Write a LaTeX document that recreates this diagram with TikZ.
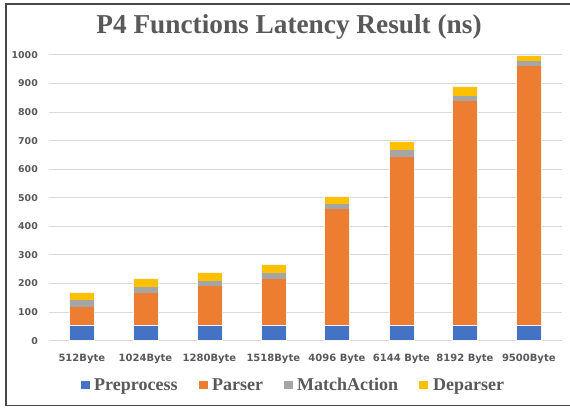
\documentclass[tikz,border=0pt]{standalone}
\usepackage{fontspec}
\setmainfont{Liberation Serif}
\newfontfamily\lblfont{DejaVu Sans}
\definecolor{txtgray}{HTML}{595959}
\definecolor{gridgray}{HTML}{D9D9D9}
\definecolor{cpre}{HTML}{4472C4}
\definecolor{cpar}{HTML}{ED7D31}
\definecolor{cmat}{HTML}{A5A5A5}
\definecolor{cdep}{HTML}{FFC000}
\begin{document}
\begin{tikzpicture}[x=1pt,y=-1pt,
  seg/.style={draw=white!92!gray,line width=0.5pt},
  ylab/.style={anchor=base east,inner sep=0,text=txtgray,font=\lblfont\bfseries\fontsize{9.4}{11}\selectfont},
  xlab/.style={anchor=base,inner sep=0,text=txtgray,font=\lblfont\bfseries\fontsize{10}{11}\selectfont},
  legtxt/.style={anchor=base west,inner sep=0,text=txtgray,font=\bfseries\fontsize{18}{20}\selectfont},
  legbox/.style={minimum width=9pt,minimum height=8.5pt,inner sep=0,anchor=south west},
  grid line/.style={draw=gridgray,line width=1pt}]
\useasboundingbox (0,0) rectangle (570,408);
\fill[white] (0,0) rectangle (570,408);
% frame
\draw[black!72,line width=1.4pt] (572,4) -- (6,4) -- (6,405.6) -- (572,405.6);
% title
\node[anchor=base,inner sep=0,text=txtgray,font=\bfseries\fontsize{27.3}{30}\selectfont] (title) at (289,33.5) {P4 Functions Latency Result (ns)};
\begin{scope}[shift={(0,340.7)},y=0.2857pt]
  \foreach \v in {0,100,...,1000}{
    \draw[grid line] (49,\v) -- (561.7,\v);
    \node[ylab] (y\v) at (38,\v-12) {\v};
  }
  \foreach \cx/\a/\b/\c/\d/\lab [count=\i] in {
    81.8/55/119/141/171/512Byte,
    145.5/55/168/188/219/1024Byte,
    209.5/55/192/209/241/1280Byte,
    273.3/55/215/237/267/1518Byte,
    337/55/460/477/507/4096 Byte,
    401.5/55/644/667/699/6144 Byte,
    465/55/840/857/891/8192 Byte,
    528.8/55/962/980/1000/9500Byte}{
    \fill[cpre] (\cx-12.5,0) rectangle (\cx+12.5,\a);
    \fill[cpar] (\cx-12.5,\a) rectangle (\cx+12.5,\b);
    \fill[cmat] (\cx-12.5,\b) rectangle (\cx+12.5,\c);
    \fill[cdep] (\cx-12.5,\c) rectangle (\cx+12.5,\d);
    \draw[seg] (\cx-12.5,0) rectangle (\cx+12.5,\d);
    \draw[seg] (\cx-12.5,\a) -- (\cx+12.5,\a);
    \node[xlab] (x\i) at (\cx,-73) {\lab};
  }
\end{scope}
% legend
\node[legbox,fill=cpre] (l1) at (81,389.5) {};
\node[legtxt] (t1) at (94,390.5) {Preprocess};
\node[legbox,fill=cpar] (l2) at (199,389.5) {};
\node[legtxt] (t2) at (212,390.5) {Parser};
\node[legbox,fill=cmat] (l3) at (284,389.5) {};
\node[legtxt] (t3) at (297,390.5) {MatchAction};
\node[legbox,fill=cdep] (l4) at (419,389.5) {};
\node[legtxt] (t4) at (433,390.5) {Deparser};
\end{tikzpicture}
\end{document}
